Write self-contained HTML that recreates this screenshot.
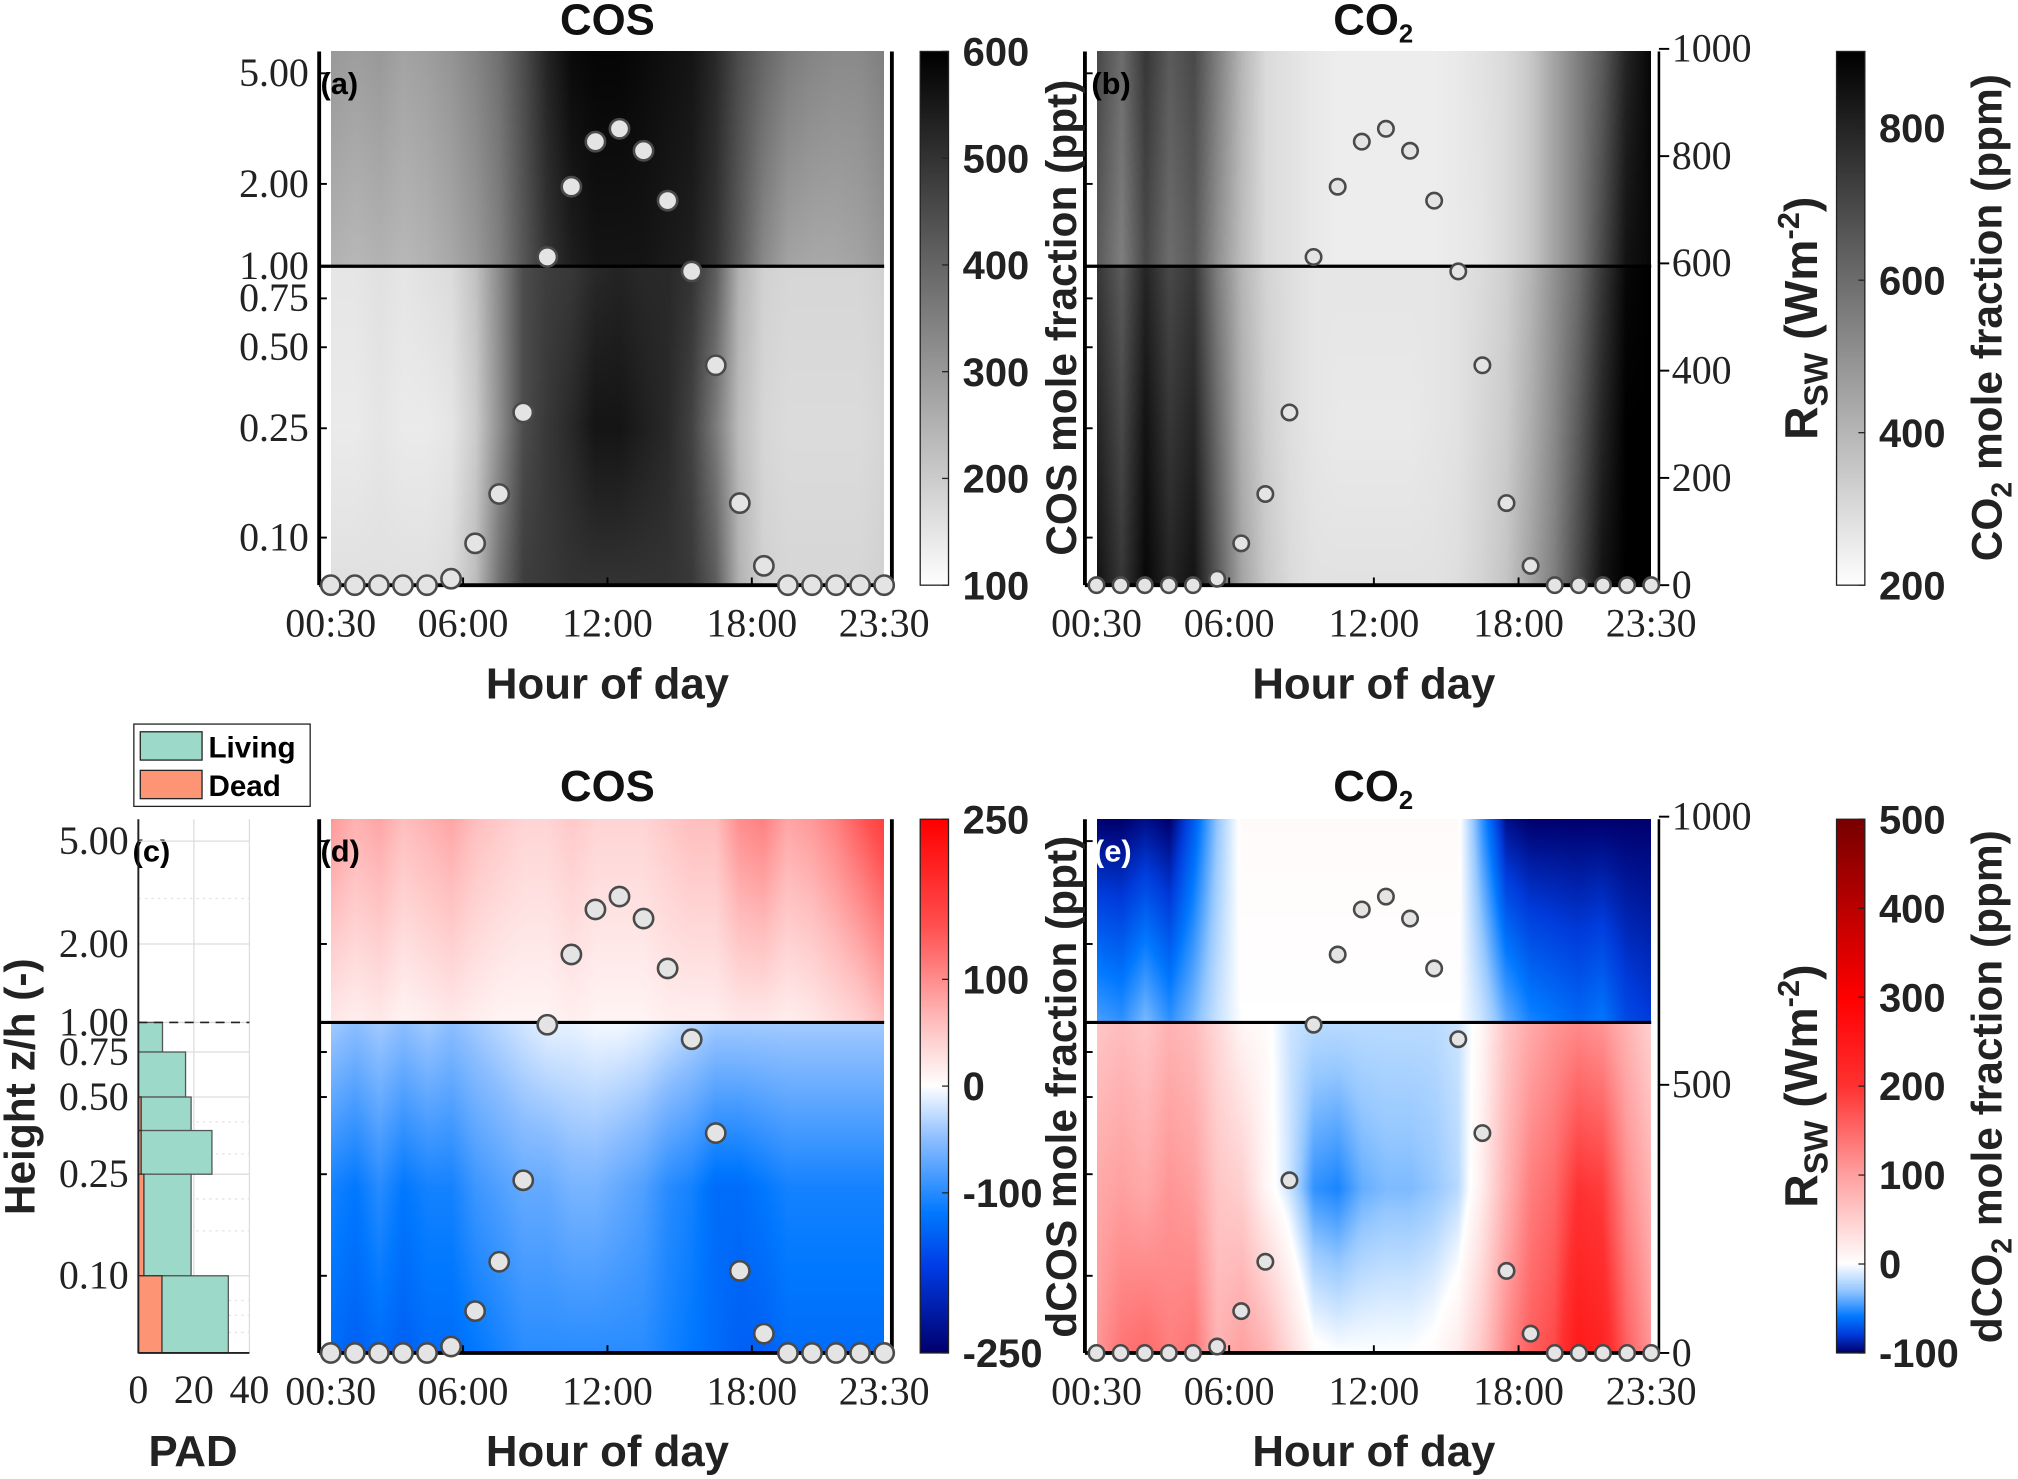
<!DOCTYPE html>
<html><head><meta charset="utf-8">
<style>
html,body{margin:0;padding:0;background:#fff;}
#wrap{position:relative;width:2018px;height:1479px;overflow:hidden;background:#fff;}
canvas{position:absolute;}
svg{position:absolute;left:0;top:0;}
.ser{font-family:"Liberation Serif",serif;}
.san{font-family:"Liberation Sans",sans-serif;font-weight:bold;}
</style></head>
<body>
<div id="wrap">
<canvas id="ca"></canvas>
<canvas id="cb"></canvas>
<canvas id="cd"></canvas>
<canvas id="ce"></canvas>
<canvas id="cba"></canvas>
<canvas id="cbb"></canvas>
<canvas id="cbd"></canvas>
<canvas id="cbe"></canvas>
<svg id="s" width="2018" height="1479" viewBox="0 0 1568 1150" preserveAspectRatio="none"></svg>
</div>
<script>
// ---------- data ----------
const hours = [0.5,1.5,2.5,3.5,4.5,5.5,6.5,7.5,8.5,9.5,10.5,11.5,12.5,13.5,14.5,15.5,16.5,17.5,18.5,19.5,20.5,21.5,22.5,23.5];
const rsw = [0,0,0,0,0,12,78,170,322,612,743,827,851,810,717,585,410,153,36,0,0,0,0,0];
const xTickLabels = ["00:30","06:00","12:00","18:00","23:30"];
const xTickHours = [0.5,6,12,18,23.5];
const zTickLabels = ["5.00","2.00","1.00","0.75","0.50","0.25","0.10"];

const cosUpperTop = [300,290,300,280,290,310,340,380,450,530,580,590,590,580,570,560,520,450,400,360,340,330,330,350];
const cosUpperLow = [250,240,250,240,250,270,300,350,430,500,540,560,560,560,550,540,500,420,330,280,270,270,280,300];
const cosLowerTop = [150,150,160,150,160,170,220,330,450,480,490,520,530,520,520,500,420,250,190,180,180,180,180,190];
const cosLowerMid = [140,140,150,140,140,150,200,320,450,490,520,560,560,540,520,470,360,230,180,170,170,170,170,180];
const cosLowerBot = [160,160,160,160,160,170,230,380,480,490,500,500,500,500,500,490,420,250,190,180,180,180,180,190];

const co2UpperTop = [700,600,750,650,700,550,400,300,280,260,250,250,250,250,250,260,280,300,350,450,550,650,800,880];
const co2UpperLow = [650,550,700,600,650,500,380,300,280,260,250,250,250,250,250,260,270,300,350,450,550,700,850,880];
const co2LowerTop = [750,650,800,700,750,550,400,320,290,270,270,270,270,270,270,280,300,330,400,500,600,750,880,900];
const co2LowerMid = [800,700,850,750,800,600,420,330,290,270,260,260,260,260,270,280,310,340,420,520,650,800,900,900];
const co2LowerBot = [850,750,880,800,850,650,450,350,300,280,280,280,280,280,280,290,320,360,450,550,700,850,900,900];

const dcosUpperTop = [90,70,80,60,70,80,60,50,40,40,50,40,40,40,50,60,60,100,110,80,90,110,140,170];
const dcosUpperLow = [20,15,20,10,15,20,15,10,10,10,15,10,10,10,15,15,15,20,20,15,20,30,40,60];
const dcosLowerTop = [-40,-50,-40,-50,-40,-50,-40,-30,-20,-10,-10,-5,-5,-10,-20,-30,-40,-40,-40,-40,-40,-40,-40,-40];
const dcosLowerMid = [-110,-120,-100,-120,-110,-110,-90,-80,-70,-70,-60,-60,-70,-80,-100,-110,-130,-130,-120,-110,-110,-110,-110,-110];
const dcosLowerBot = [-130,-140,-130,-140,-130,-130,-120,-110,-100,-100,-100,-100,-100,-100,-110,-120,-130,-140,-140,-130,-130,-130,-130,-130];

const dco2UpperTop = [-100,-100,-95,-100,-70,-30,5,5,5,5,5,5,5,5,5,5,-50,-95,-100,-100,-100,-100,-100,-100];
const dco2UpperLow = [-45,-50,-35,-50,-35,-15,0,0,0,0,0,0,0,0,0,0,-15,-40,-55,-60,-65,-60,-75,-80];
const dco2LowerTop = [60,70,60,80,70,40,10,5,-15,-20,-20,-20,-20,-20,-20,-15,10,60,90,110,120,110,80,50];
const dco2LowerMid = [90,100,90,110,100,60,50,10,-15,-50,-55,-40,-35,-35,-30,-20,20,80,130,150,200,190,120,80];
const dco2LowerBot = [110,140,150,130,140,80,100,80,40,5,0,0,0,0,5,20,60,120,160,180,250,230,160,110];

const padLevels = [1.0,0.75,0.5,0.37,0.25,0.1,0.05];
const padLiving = [8.7,17,19,26.5,19,32.4];
const padDead = [0,0,1,1,2,8.5];

// ---------- geometry (in 1568x1150 units) ----------
const SX = 2018/1568, SY = 1479/1150;
const NS = "http://www.w3.org/2000/svg";
const svg = document.getElementById('s');
function el(tag, attrs, parent, text){
  const e = document.createElementNS(NS, tag);
  for (const k in attrs) e.setAttribute(k, attrs[k]);
  if (text !== undefined) e.textContent = text;
  (parent||svg).appendChild(e);
  return e;
}
const panels = {
  a:{x0:257,x1:687,yt:40,yb:455,yLine:207,zt:[57,143,207,232,270,333,418]},
  b:{x0:852,x1:1283,yt:40,yb:455,yLine:207,zt:[57,143,207,232,270,333,418]},
  d:{x0:257,x1:687,yt:637,yb:1052,yLine:795,zt:[654,734,795,818,853,913,992]},
  e:{x0:852,x1:1283,yt:637,yb:1052,yLine:795,zt:[654,734,795,818,853,913,992]}
};
function xH(p,h){return p.x0 + (h-0.5)*(p.x1-p.x0)/23;}
function yR(p,r){return p.yb - r*(p.yb-p.yt+2)/1000;}

// ---------- colormaps ----------
function lerpStops(stops,v){
  if (v<=stops[0][0]) return stops[0].slice(1);
  for (let i=1;i<stops.length;i++){
    if (v<=stops[i][0]){
      const a=stops[i-1], b=stops[i], t=(v-a[0])/(b[0]-a[0]);
      return [a[1]+(b[1]-a[1])*t, a[2]+(b[2]-a[2])*t, a[3]+(b[3]-a[3])*t];
    }
  }
  return stops[stops.length-1].slice(1);
}
const cmA = v=>{const t=Math.max(0,Math.min(1,(v-100)/500));const g=255*(1-t);return [g,g,g];};
const cmB = v=>{const t=Math.max(0,Math.min(1,(v-200)/700));const g=255*(1-t);return [g,g,g];};
const stD = [[-250,0,0,110],[-170,0,60,230],[-120,0,120,255],[-50,140,190,255],[0,255,255,255],[60,255,190,190],[150,255,80,80],[250,255,0,0]];
const stE = [[-100,0,0,110],[-80,0,60,220],[-60,0,120,255],[-30,150,200,255],[0,255,255,255],[100,255,160,160],[200,255,50,50],[300,255,0,0],[500,120,0,0]];
const cmD = v=>lerpStops(stD,v), cmE = v=>lerpStops(stE,v);

function interpCol(arr,h){
  const f = Math.max(0,Math.min(23,h-0.5)); const i=Math.floor(f), j=Math.min(23,i+1), t=f-i;
  return arr[i]*(1-t)+arr[j]*t;
}
function drawHeat(id,p,rowsU,rowsL,cm){
  const c=document.getElementById(id);
  const W=p.x1-p.x0, H=p.yb-p.yt;
  c.width=W; c.height=H;
  c.style.left=(p.x0*SX)+'px'; c.style.top=(p.yt*SY)+'px';
  c.style.width=(W*SX)+'px'; c.style.height=(H*SY)+'px';
  const ctx=c.getContext('2d'); const img=ctx.createImageData(W,H);
  const yl=p.yLine-p.yt;
  for (let x=0;x<W;x++){
    const h=0.5+x/(W-1)*23;
    const u=rowsU.map(r=>interpCol(r,h)), l=rowsL.map(r=>interpCol(r,h));
    for (let y=0;y<H;y++){
      let v;
      if (y<yl){ const t=y/yl; v=u[0]*(1-t)+u[1]*t; }
      else { const t=(y-yl)/(H-yl)*2; v = t<1 ? l[0]*(1-t)+l[1]*t : l[1]*(2-t)+l[2]*(t-1); }
      const col=cm(v), k=(y*W+x)*4;
      img.data[k]=col[0];img.data[k+1]=col[1];img.data[k+2]=col[2];img.data[k+3]=255;
    }
  }
  ctx.putImageData(img,0,0);
}
drawHeat('ca',panels.a,[cosUpperTop,cosUpperLow],[cosLowerTop,cosLowerMid,cosLowerBot],cmA);
drawHeat('cb',panels.b,[co2UpperTop,co2UpperLow],[co2LowerTop,co2LowerMid,co2LowerBot],cmB);
drawHeat('cd',panels.d,[dcosUpperTop,dcosUpperLow],[dcosLowerTop,dcosLowerMid,dcosLowerBot],cmD);
drawHeat('ce',panels.e,[dco2UpperTop,dco2UpperLow],[dco2LowerTop,dco2LowerMid,dco2LowerBot],cmE);

function drawCbar(id,x,yt,yb,vmin,vmax,cm){
  const c=document.getElementById(id);
  const W=22,H=yb-yt; c.width=W;c.height=H;
  c.style.left=(x*SX)+'px'; c.style.top=(yt*SY)+'px';
  c.style.width=(W*SX)+'px'; c.style.height=(H*SY)+'px';
  const ctx=c.getContext('2d');
  for (let y=0;y<H;y++){const v=vmax-(vmax-vmin)*y/(H-1);const col=cm(v);
    ctx.fillStyle=`rgb(${col[0]|0},${col[1]|0},${col[2]|0})`;ctx.fillRect(0,y,W,1);}
}
drawCbar('cba',715,40,455,100,600,cmA);
drawCbar('cbb',1427,40,455,200,900,cmB);
drawCbar('cbd',715,637,1052,-250,250,cmD);
drawCbar('cbe',1427,637,1052,-100,500,cmE);

const cbars = [
  {x:715,yt:40,yb:455,min:100,max:600,ticks:[600,500,400,300,200,100],name:'cos'},
  {x:1427,yt:40,yb:455,min:200,max:900,ticks:[800,600,400,200],name:'co2'},
  {x:715,yt:637,yb:1052,min:-250,max:250,ticks:[250,100,0,-100,-250],name:'dcos'},
  {x:1427,yt:637,yb:1052,min:-100,max:500,ticks:[500,400,300,200,100,0,-100],name:'dco2'}
];
cbars.forEach(cb=>{
  el('rect',{x:cb.x,y:cb.yt,width:22,height:cb.yb-cb.yt,fill:'none',stroke:'#222','stroke-width':1,});
  cb.ticks.forEach(t=>{
    const y=cb.yb-(t-cb.min)/(cb.max-cb.min)*(cb.yb-cb.yt);
    el('line',{x1:cb.x+17,x2:cb.x+22,y1:y,y2:y,stroke:'#222','stroke-width':1});
    const tx=el('text',{x:cb.x+33,y:y+11,class:'san','font-size':31,fill:'#222'},null,String(t));
    
    
  });
});

function rotText(x,y,str,size,name){
  const t=el('text',{x:0,y:0,transform:`translate(${x},${y}) rotate(-90)`,'text-anchor':'middle',class:'san','font-size':size,fill:'#222'});
  
  
  return t;
}
['a','b','d','e'].forEach(k=>{
  const p=panels[k];
  const ax=p.x0-9, ar=p.x1+6;
  el('line',{x1:ax,x2:ax,y1:p.yt,y2:p.yb,stroke:'#000','stroke-width':3,});
  el('line',{x1:ax,x2:ar,y1:p.yb,y2:p.yb,stroke:'#000','stroke-width':3,});
  el('line',{x1:ar,x2:ar,y1:p.yt,y2:p.yb,stroke:'#000','stroke-width':(k==='a'||k==='d')?3:2,});
  el('line',{x1:ax,x2:p.x1,y1:p.yLine,y2:p.yLine,stroke:'#000','stroke-width':2.5,});
  xTickHours.forEach((h,i)=>{
    const x=xH(p,h);
    el('line',{x1:x,x2:x,y1:p.yb-6,y2:p.yb,stroke:'#000','stroke-width':1.5});
    const t=el('text',{x:x,y:p.yb+40,'text-anchor':'middle',class:'ser','font-size':31,fill:'#222'},null,xTickLabels[i]);
    
    
  });
  const xt=el('text',{x:(p.x0+p.x1)/2,y:p.yb+88,'text-anchor':'middle',class:'san','font-size':34,fill:'#222'},null,'Hour of day');
  
  
  p.zt.forEach((y,i)=>{
    el('line',{x1:ax,x2:ax+6,y1:y,y2:y,stroke:'#000','stroke-width':1.5});
    if (k==='a'){
      const t=el('text',{x:ax-8,y:y+10,'text-anchor':'end',class:'ser','font-size':31,fill:'#222'},null,zTickLabels[i]);
      
      
    }
  });
  if (k==='b'||k==='e'){
    const rt = k==='b'?[0,200,400,600,800,1000]:[0,500,1000];
    rt.forEach(r=>{
      const y=yR(p,r);
      el('line',{x1:ar,x2:ar+8,y1:y,y2:y,stroke:'#000','stroke-width':1.5});
      const t=el('text',{x:ar+10,y:y+10,class:'ser','font-size':31,fill:'#222'},null,String(r));
      
      
    });
    const rtt=rotText(1412,(p.yt+p.yb)/2,'',36,'rsw-axis-title');
    el('tspan',{},rtt,'R'); el('tspan',{'font-size':26,dy:8},rtt,'SW'); el('tspan',{dy:-8},rtt,' (Wm');
    el('tspan',{'font-size':24,dy:-14},rtt,'-2'); el('tspan',{dy:14},rtt,')');
  }
  hours.forEach((h,i)=>{
    const c=el('circle',{cx:xH(p,h),cy:yR(p,rsw[i]),r:(k==='a'||k==='d')?7.5:6,fill:'#e4e4e4',stroke:'#4a4a4a','stroke-width':2});
    
    
  });
});
[['(a)',249,73,'#000','a'],['(b)',848,73,'#000','b'],['(d)',249,670,'#000','d'],['(e)',850,670,'#fff','e'],['(c)',103,670,'#000','c']].forEach(l=>{
  const t=el('text',{x:l[1],y:l[2],class:'san','font-size':24,fill:l[3]},null,l[0]);
  
  
});
function title(x,y,main,sub,name){
  const t=el('text',{x:x,y:y,'text-anchor':'middle',class:'san','font-size':34,fill:'#111'});
  
  
  el('tspan',{},t,main);
  if(sub){el('tspan',{'font-size':20,dy:6},t,sub);}
}
title(472,27,'COS','','title-a'); title(1067,27,'CO','2','title-b');
title(472,623,'COS','','title-d'); title(1067,623,'CO','2','title-e');
rotText(836,247,'',33,'colorbar-title-cos').textContent='COS mole fraction (ppt)';
(function(){const t=rotText(1555,247,'',33,'colorbar-title-co2');el('tspan',{},t,'CO');el('tspan',{'font-size':22,dy:8},t,'2');el('tspan',{dy:-8},t,' mole fraction (ppm)');})();
rotText(836,845,'',33,'colorbar-title-dcos').textContent='dCOS mole fraction (ppt)';
(function(){const t=rotText(1555,845,'',33,'colorbar-title-dco2');el('tspan',{},t,'dCO');el('tspan',{'font-size':22,dy:8},t,'2');el('tspan',{dy:-8},t,' mole fraction (ppm)');})();

// ---------- panel c: PAD ----------
const pc={x0:107.5,x1:193.8,yt:637,yb:1052};
const zC=[654,734,795,818,853,913,992];
function xP(v){return pc.x0+v*(pc.x1-pc.x0)/40;}
const zVals=[5,2,1,0.75,0.5,0.25,0.1];
function yZ(z){
  const lz=Math.log10(z);
  for(let i=1;i<zVals.length;i++){
    if(z>=zVals[i]||i===zVals.length-1){
      const a=Math.log10(zVals[i-1]),b=Math.log10(zVals[i]);
      return zC[i-1]+(lz-a)/(b-a)*(zC[i]-zC[i-1]);
    }
  }
}
[0,20,40].forEach(v=>el('line',{x1:xP(v),x2:xP(v),y1:pc.yt,y2:pc.yb,stroke:'#ddd','stroke-width':1}));
zC.forEach(y=>el('line',{x1:pc.x0,x2:pc.x1,y1:y,y2:y,stroke:'#ddd','stroke-width':1}));
[3,0.4,0.3,0.2,0.15,0.08,0.07,0.06].forEach(z=>el('line',{x1:pc.x0,x2:pc.x1,y1:yZ(z),y2:yZ(z),stroke:'#e4e4e4','stroke-width':1,'stroke-dasharray':'2,3'}));
padLiving.forEach((v,i)=>{
  const y1=yZ(padLevels[i]), y2=i===padLevels.length-2?pc.yb:yZ(padLevels[i+1]);
  const r=el('rect',{x:pc.x0,y:y1,width:xP(v)-pc.x0,height:y2-y1,fill:'#9dd9c9',stroke:'#555','stroke-width':1});
  
  
});
padDead.forEach((v,i)=>{
  if(v<=0) return;
  const y1=yZ(padLevels[i]), y2=i===padLevels.length-2?pc.yb:yZ(padLevels[i+1]);
  const r=el('rect',{x:pc.x0,y:y1,width:xP(v)-pc.x0,height:y2-y1,fill:'#fd9574',stroke:'#333','stroke-width':1});
  
  
});
el('line',{x1:pc.x0,x2:pc.x1,y1:795,y2:795,stroke:'#222','stroke-width':1.2,'stroke-dasharray':'7,5',});
el('line',{x1:pc.x0,x2:pc.x0,y1:pc.yt,y2:pc.yb,stroke:'#222','stroke-width':1.5,});
el('line',{x1:pc.x0,x2:pc.x1,y1:pc.yb,y2:pc.yb,stroke:'#222','stroke-width':1.5,});
zC.forEach((y,i)=>{const t=el('text',{x:100,y:y+10,'text-anchor':'end',class:'ser','font-size':31,fill:'#222'},null,zTickLabels[i]);
  
  });
[0,20,40].forEach(v=>{const t=el('text',{x:xP(v),y:1091,'text-anchor':'middle',class:'ser','font-size':31,fill:'#222'},null,String(v));
  
  });
(function(){const t=el('text',{x:150,y:1140,'text-anchor':'middle',class:'san','font-size':34,fill:'#222'},null,'PAD');
  
  })();
rotText(27,845,'',33,'y-axis-title').textContent='Height z/h (-)';
el('rect',{x:104,y:563,width:137,height:64,fill:'#fff',stroke:'#222','stroke-width':1,});
el('rect',{x:109,y:569,width:48,height:22,fill:'#9dd9c9',stroke:'#222','stroke-width':1,});
el('rect',{x:109,y:599,width:48,height:22,fill:'#fd9574',stroke:'#222','stroke-width':1,});
(function(){
  const a=el('text',{x:162,y:589,class:'san','font-size':23,fill:'#000'},null,'Living');
  
  
  const b=el('text',{x:162,y:619,class:'san','font-size':23,fill:'#000'},null,'Dead');
  
  
})();
</script>
</body></html>
